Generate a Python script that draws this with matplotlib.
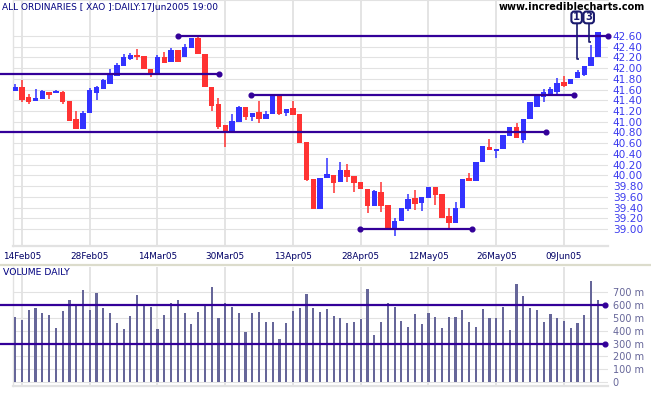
import matplotlib
matplotlib.use("Agg")
import matplotlib.pyplot as plt
from matplotlib.lines import Line2D
from matplotlib.patches import FancyBboxPatch
from matplotlib.transforms import IdentityTransform

# ---------------- data ----------------
title = "ALL ORDINARIES [ XAO ]:DAILY:17Jun2005 19:00"
site = "www.incrediblecharts.com"
date_labels = ["14Feb05", "28Feb05", "14Mar05", "30Mar05", "13Apr05",
               "28Apr05", "12May05", "26May05", "09Jun05"]
date_index = [1, 11, 21, 31, 41, 51, 61, 71, 81]

opens = [41.58, 41.64, 41.47, 41.39, 41.42, 41.56, 41.54, 41.56, 41.39, 41.05,
         40.86, 41.17, 41.54, 41.62, 41.70, 41.85, 42.04, 42.17, 42.25, 42.23,
         41.98, 41.87, 42.20, 42.11, 42.33, 42.20, 42.38, 42.56, 42.26, 41.64,
         41.33, 40.94, 40.83, 41.00, 41.27, 41.08, 41.18, 41.05, 41.14, 41.50,
         41.16, 41.25, 41.14, 40.62, 39.93, 39.37, 39.95, 40.01, 39.88, 40.10,
         39.99, 39.88, 39.75, 39.43, 39.69, 39.45, 38.99, 39.14, 39.37, 39.58,
         39.48, 39.57, 39.78, 39.65, 39.24, 39.12, 39.40, 39.96, 39.90, 40.24,
         40.53, 40.46, 40.49, 40.74, 40.91, 40.66, 41.05, 41.28, 41.47, 41.52,
         41.56, 41.75, 41.70, 41.81, 41.87, 42.04, 42.21]
highs = [41.70, 41.78, 41.51, 41.61, 41.59, 41.56, 41.59, 41.58, 41.39, 41.20,
         41.21, 41.63, 41.67, 41.80, 41.98, 42.10, 42.26, 42.28, 42.36, 42.23,
         41.98, 42.25, 42.31, 42.38, 42.33, 42.45, 42.56, 42.60, 42.26, 41.64,
         41.44, 40.94, 41.14, 41.30, 41.27, 41.17, 41.39, 41.21, 41.50, 41.50,
         41.24, 41.39, 41.14, 40.62, 39.93, 39.95, 40.32, 40.01, 40.24, 40.21,
         39.99, 39.88, 39.75, 39.73, 39.88, 39.45, 39.21, 39.40, 39.65, 39.73,
         39.59, 39.78, 39.78, 39.65, 39.40, 39.51, 39.93, 40.05, 40.24, 40.55,
         40.68, 40.49, 40.75, 40.90, 40.97, 41.05, 41.37, 41.50, 41.61, 41.64,
         41.82, 41.85, 41.80, 41.97, 42.04, 42.43, 42.68]
lows = [41.58, 41.36, 41.33, 41.39, 41.42, 41.42, 41.54, 41.33, 41.02, 40.86,
        40.86, 41.17, 41.41, 41.62, 41.70, 41.85, 42.04, 42.15, 42.15, 41.98,
        41.84, 41.87, 42.10, 42.11, 42.11, 42.20, 42.38, 42.26, 41.65, 41.21,
        40.87, 40.52, 40.83, 41.00, 41.03, 41.02, 40.98, 41.05, 41.14, 41.13,
        41.11, 41.13, 40.61, 39.89, 39.37, 39.37, 39.95, 39.67, 39.88, 39.88,
        39.69, 39.74, 39.30, 39.43, 39.32, 39.01, 38.86, 39.14, 39.34, 39.35,
        39.34, 39.57, 39.45, 39.20, 39.01, 39.12, 39.40, 39.90, 39.90, 40.24,
        40.47, 40.33, 40.49, 40.74, 40.70, 40.61, 41.05, 41.27, 41.37, 41.52,
        41.50, 41.64, 41.70, 41.81, 41.85, 42.04, 42.21]
closes = [41.64, 41.41, 41.36, 41.45, 41.58, 41.50, 41.57, 41.37, 41.02, 40.86,
          41.17, 41.59, 41.64, 41.78, 41.87, 42.06, 42.21, 42.25, 42.21, 41.98,
          41.90, 42.21, 42.10, 42.34, 42.11, 42.40, 42.56, 42.26, 41.65, 41.29,
          40.91, 40.81, 41.01, 41.28, 41.08, 41.17, 41.05, 41.14, 41.50, 41.14,
          41.24, 41.13, 40.61, 39.91, 39.37, 39.95, 40.03, 39.86, 40.10, 39.97,
          39.86, 39.74, 39.42, 39.71, 39.42, 39.01, 39.15, 39.40, 39.56, 39.47,
          39.59, 39.78, 39.63, 39.20, 39.11, 39.40, 39.93, 39.90, 40.24, 40.55,
          40.47, 40.49, 40.75, 40.90, 40.70, 41.05, 41.37, 41.48, 41.56, 41.62,
          41.73, 41.67, 41.80, 41.92, 42.04, 42.21, 42.68]
volumes_m = [506, 483, 561, 575, 535, 520, 425, 554, 638, 606,
             717, 559, 693, 575, 535, 457, 417, 512, 677, 593,
             583, 417, 520, 614, 638, 535, 449, 546, 593, 740,
             496, 614, 583, 535, 394, 535, 543, 472, 472, 339,
             457, 551, 575, 685, 575, 543, 567, 512, 496, 457,
             465, 488, 724, 370, 472, 614, 583, 480, 433, 528,
             449, 535, 504, 425, 509, 509, 559, 465, 430, 567,
             496, 496, 583, 404, 764, 669, 575, 559, 472, 528,
             496, 480, 425, 457, 520, 787, 638]

# support / resistance lines: (level, start index, end index, dot at start, dot at end)
price_lines = [
    (42.60, 24.0, 87.5, True, True),
    (41.90, -2.3, 30.1, False, True),
    (41.50, 34.8, 82.5, True, True),
    (40.80, -2.3, 78.3, False, True),
    (39.00, 50.9, 67.4, True, True),
]
volume_lines = [(600, -2.3, 87.0), (300, -2.3, 87.0)]
price_ticks = [39.00 + 0.2 * k for k in range(19)]
volume_ticks = [0, 100, 200, 300, 400, 500, 600, 700]
volume_tick_labels = ["0", "100 m", "200 m", "300 m", "400 m", "500 m", "600 m", "700 m"]
# event markers: label, index of stem, price where stem ends
markers = [("1", 82.87, 42.18), ("3", 84.65, 42.49)]

# ---------------- style ----------------
W, H = 651, 395
UP = "#3333ff"
DOWN = "#ff3333"
LINE = "#330099"
GRID = "#e2e2e2"
NAVY = "#000080"
MARK = "#1a1a6e"

fig = plt.figure(figsize=(W / 100, H / 100), dpi=100)
fig.patch.set_facecolor("white")


def ax_rect(x0, y0, x1, y1):
    return [x0 / W, (H - y1) / H, (x1 - x0) / W, (y1 - y0) / H]


axp = fig.add_axes(ax_rect(13, 0, 608, 246))
axv = fig.add_axes(ax_rect(13, 267, 608, 386))

xlim = (-0.33, 87.5)
for ax in (axp, axv):
    ax.set_xlim(*xlim)
    for s in ("top", "right"):
        ax.spines[s].set_visible(False)
    ax.spines["left"].set_color(GRID)
    ax.spines["left"].set_linewidth(1.0)
    ax.spines["bottom"].set_color(GRID)
    ax.spines["bottom"].set_linewidth(1.6)
    ax.set_axisbelow(True)

axp.spines["top"].set_visible(True)
axp.spines["top"].set_color(GRID)

# price axis
ylo, yhi = 38.682, 43.272
axp.set_ylim(ylo, yhi)
axp.set_yticks(price_ticks)
axp.set_yticklabels([f"{v:.2f}" for v in price_ticks])
axp.yaxis.tick_right()
axp.tick_params(axis="y", length=0, pad=3.5, labelsize=7.6, labelcolor="#3b3bee")
axp.set_xticks(date_index)
axp.set_xticklabels(date_labels)
axp.tick_params(axis="x", length=0, pad=4.2, labelsize=6.4, labelcolor="#000066")
axp.grid(True, color=GRID, linewidth=0.8)
axp.xaxis.grid(True, linewidth=1.3)

# candles
bw = 0.8
for i, (o, h, l, c) in enumerate(zip(opens, highs, lows, closes)):
    col = UP if c >= o else DOWN
    axp.vlines(i, l, h, color=col, linewidth=1.1, zorder=3)
    lo, hi = min(o, c), max(o, c)
    axp.bar(i, max(hi - lo, 0.012), bottom=lo, width=bw, color=col,
            edgecolor="none", zorder=4)

for lvl, x0, x1, d0, d1 in price_lines:
    axp.plot([x0, x1], [lvl, lvl], color=LINE, linewidth=1.6, zorder=5,
             clip_on=False, solid_capstyle="butt")
    xs = ([x0] if d0 else []) + ([x1] if d1 else [])
    axp.plot(xs, [lvl] * len(xs), "o", color=LINE, markersize=3.4, zorder=6,
             clip_on=False)

# event markers (boxes drawn in pixel space, stems in data space)
box_top_px, box_bot_px = 11.5, 23.3
stem_top = yhi - (yhi - ylo) * box_bot_px / 246
box_w = 10.5
for lab, xi, yend in markers:
    axp.plot([xi, xi, xi + 0.35], [stem_top, yend, yend], color=MARK,
             linewidth=1.2, zorder=6, clip_on=False, solid_capstyle="butt")
    xpix = 13 + (xi - xlim[0]) / (xlim[1] - xlim[0]) * 595
    box = FancyBboxPatch((xpix - box_w / 2, H - box_bot_px), box_w,
                         box_bot_px - box_top_px,
                         boxstyle="round,pad=0,rounding_size=3",
                         transform=IdentityTransform(), fc="white", ec=MARK,
                         lw=1.5, zorder=7)
    fig.add_artist(box)
    fig.text(xpix / W, 1 - (box_top_px + box_bot_px) / 2 / H, lab, ha="center",
             va="center", fontsize=7.2, color=MARK, fontweight="bold", zorder=8)

# volume axis
axv.set_ylim(-31.5, 898)
axv.set_yticks(volume_ticks)
axv.set_yticklabels(volume_tick_labels)
axv.yaxis.tick_right()
axv.tick_params(axis="y", length=0, pad=3.5, labelsize=7.0, labelcolor="#666699")
axv.set_xticks(date_index)
axv.set_xticklabels([])
axv.tick_params(axis="x", length=0)
axv.grid(True, color=GRID, linewidth=0.8)
axv.xaxis.grid(True, linewidth=1.3)
axv.bar(range(len(volumes_m)), volumes_m, width=0.32, color="#666699",
        edgecolor="none", zorder=3)
for lvl, x0, x1 in volume_lines:
    axv.plot([x0, x1], [lvl, lvl], color=LINE, linewidth=1.6, zorder=5,
             clip_on=False, solid_capstyle="butt")
    axv.plot([x1], [lvl], "o", color=LINE, markersize=3.4, zorder=6, clip_on=False)

# separator band between date labels and volume panel
fig.add_artist(Line2D([0, 1], [(H - 265) / H] * 2, color="#dcdccc", linewidth=1.6,
                      transform=fig.transFigure))

# texts
t_title = fig.text(2 / W, 1 - 7 / H, title, ha="left", va="center", color=NAVY,
                   fontsize=7.5, family="DejaVu Sans")
t_site = fig.text(645 / W, 1 - 7.5 / H, site, ha="right", va="center", color="black",
                  fontsize=8, fontweight="bold", family="DejaVu Sans")
t_vol = fig.text(3 / W, 1 - 272.5 / H, "VOLUME DAILY", ha="left", va="center",
                 color=NAVY, fontsize=7, family="DejaVu Sans")

renderer = fig.canvas.get_renderer()
for t, target in ((t_title, 216), (t_site, 146), (t_vol, 68)):
    w = t.get_window_extent(renderer).width
    t.set_fontsize(t.get_fontsize() * target / w)

fig.savefig("out.png", dpi=100, facecolor="white")
